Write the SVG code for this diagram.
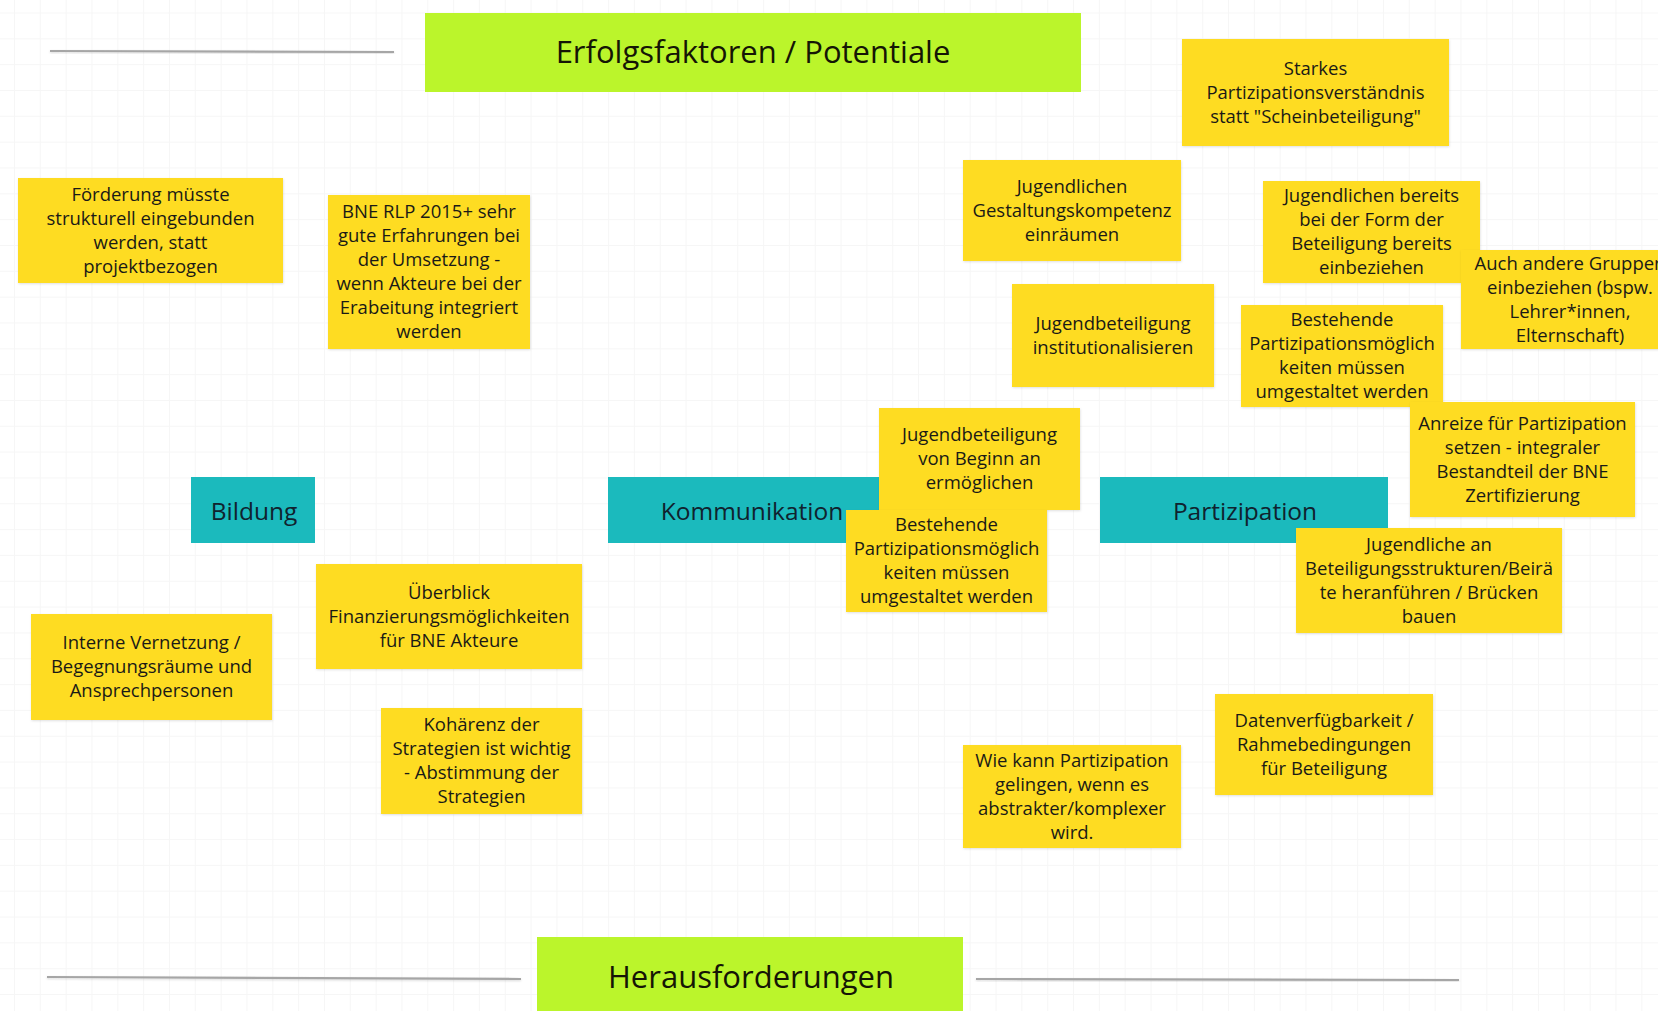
<svg xmlns="http://www.w3.org/2000/svg" width="1658" height="1011" viewBox="0 0 1658 1011">
  <style>
    .note { fill: #fedc22; filter: url(#sh); }
    .teal { fill: #1bbabd; }
    .green { fill: #bbf52b; }
    .nt { font-family: "Open Sans", "Noto Sans", "Liberation Sans", sans-serif; font-size: 18.5px; fill: #1a1a16; text-anchor: middle; }
    .tt { font-family: "Open Sans", "Noto Sans", "Liberation Sans", sans-serif; font-size: 24.5px; fill: #10222e; text-anchor: middle; }
    .gt { font-family: "Open Sans", "Noto Sans", "Liberation Sans", sans-serif; font-size: 31px; fill: #151505; text-anchor: middle; }
    .ln { stroke: #a6a6a6; stroke-width: 2.2; fill: none; filter: url(#lsh); }
  </style>
  <defs>
    <pattern id="grid" x="14" y="12.5" width="25.83" height="25.83" patternUnits="userSpaceOnUse">
      <path d="M0 0.5 H25.83 M0.5 0 V25.83" stroke="#f6f6f6" stroke-width="1" fill="none"/>
    </pattern>
    <filter id="sh" x="-5%" y="-5%" width="110%" height="115%">
      <feDropShadow dx="0.5" dy="1" stdDeviation="0.8" flood-color="#000" flood-opacity="0.12"/>
    </filter>
    <filter id="lsh" x="-1%" y="-200%" width="102%" height="500%">
      <feDropShadow dx="0" dy="1" stdDeviation="0.8" flood-color="#000" flood-opacity="0.15"/>
    </filter>
  </defs>

  <rect width="1658" height="1011" fill="#ffffff"/>
  <rect width="1658" height="1011" fill="url(#grid)"/>

  <g id="lines">
    <line class="ln" x1="50" y1="51" x2="394" y2="52"/>
    <line class="ln" x1="1100" y1="50" x2="1184" y2="50"/>
    <line class="ln" x1="47" y1="977" x2="521" y2="979"/>
    <line class="ln" x1="976" y1="979" x2="1459" y2="980"/>
  </g>

  <g id="erfolgsfaktoren">
    <rect class="green" x="425" y="13" width="656" height="79"/>
    <text class="gt" x="753" y="63">Erfolgsfaktoren / Potentiale</text>
  </g>

  <g id="herausforderungen">
    <rect class="green" x="537" y="937" width="426" height="80"/>
    <text class="gt" x="751" y="988">Herausforderungen</text>
  </g>

  <g id="bildung">
    <rect class="teal" x="191" y="477" width="124" height="66"/>
    <text class="tt" x="254" y="520">Bildung</text>
  </g>

  <g id="kommunikation">
    <rect class="teal" x="608" y="477" width="288" height="66"/>
    <text class="tt" x="752" y="520">Kommunikation</text>
  </g>

  <g id="partizipation">
    <rect class="teal" x="1100" y="477" width="288" height="66"/>
    <text class="tt" x="1245" y="520">Partizipation</text>
  </g>

  <g id="starkes">
    <rect class="note" x="1182" y="39" width="267" height="107"/>
    <text class="nt" x="1315.5" y="74.5"><tspan x="1315.5">Starkes</tspan><tspan x="1315.5" dy="24">Partizipationsverständnis</tspan><tspan x="1315.5" dy="24">statt "Scheinbeteiligung"</tspan></text>
  </g>

  <g id="foerderung">
    <rect class="note" x="18" y="178" width="265" height="105"/>
    <text class="nt" x="150.5" y="200.5"><tspan x="150.5">Förderung müsste</tspan><tspan x="150.5" dy="24">strukturell eingebunden</tspan><tspan x="150.5" dy="24">werden, statt</tspan><tspan x="150.5" dy="24">projektbezogen</tspan></text>
  </g>

  <g id="bne-rlp">
    <rect class="note" x="328" y="195" width="202" height="154"/>
    <text class="nt" x="429" y="218"><tspan x="429">BNE RLP 2015+ sehr</tspan><tspan x="429" dy="24">gute Erfahrungen bei</tspan><tspan x="429" dy="24">der Umsetzung -</tspan><tspan x="429" dy="24">wenn Akteure bei der</tspan><tspan x="429" dy="24">Erabeitung integriert</tspan><tspan x="429" dy="24">werden</tspan></text>
  </g>

  <g id="gestaltungskompetenz">
    <rect class="note" x="963" y="160" width="218" height="101"/>
    <text class="nt" x="1072" y="192.5"><tspan x="1072">Jugendlichen</tspan><tspan x="1072" dy="24">Gestaltungskompetenz</tspan><tspan x="1072" dy="24">einräumen</tspan></text>
  </g>

  <g id="form-beteiligung">
    <rect class="note" x="1263" y="181" width="217" height="102"/>
    <text class="nt" x="1371.5" y="202"><tspan x="1371.5">Jugendlichen bereits</tspan><tspan x="1371.5" dy="24">bei der Form der</tspan><tspan x="1371.5" dy="24">Beteiligung bereits</tspan><tspan x="1371.5" dy="24">einbeziehen</tspan></text>
  </g>

  <g id="andere-gruppen">
    <rect class="note" x="1461" y="250" width="218" height="99"/>
    <text class="nt" x="1570" y="269.5"><tspan x="1570">Auch andere Gruppen</tspan><tspan x="1570" dy="24">einbeziehen (bspw.</tspan><tspan x="1570" dy="24">Lehrer*innen,</tspan><tspan x="1570" dy="24">Elternschaft)</tspan></text>
  </g>

  <g id="institutionalisieren">
    <rect class="note" x="1012" y="284" width="202" height="103"/>
    <text class="nt" x="1113" y="329.5"><tspan x="1113">Jugendbeteiligung</tspan><tspan x="1113" dy="24">institutionalisieren</tspan></text>
  </g>

  <g id="bestehende-1">
    <rect class="note" x="1241" y="305" width="202" height="102"/>
    <text class="nt" x="1342" y="326"><tspan x="1342">Bestehende</tspan><tspan x="1342" dy="24">Partizipationsmöglich</tspan><tspan x="1342" dy="24">keiten müssen</tspan><tspan x="1342" dy="24">umgestaltet werden</tspan></text>
  </g>

  <g id="anreize">
    <rect class="note" x="1410" y="402" width="225" height="115"/>
    <text class="nt" x="1522.5" y="429.5"><tspan x="1522.5">Anreize für Partizipation</tspan><tspan x="1522.5" dy="24">setzen - integraler</tspan><tspan x="1522.5" dy="24">Bestandteil der BNE</tspan><tspan x="1522.5" dy="24">Zertifizierung</tspan></text>
  </g>

  <g id="von-beginn">
    <rect class="note" x="879" y="408" width="201" height="102"/>
    <text class="nt" x="979.5" y="441"><tspan x="979.5">Jugendbeteiligung</tspan><tspan x="979.5" dy="24">von Beginn an</tspan><tspan x="979.5" dy="24">ermöglichen</tspan></text>
  </g>

  <g id="bestehende-2">
    <rect class="note" x="846" y="510" width="201" height="102"/>
    <text class="nt" x="946.5" y="531"><tspan x="946.5">Bestehende</tspan><tspan x="946.5" dy="24">Partizipationsmöglich</tspan><tspan x="946.5" dy="24">keiten müssen</tspan><tspan x="946.5" dy="24">umgestaltet werden</tspan></text>
  </g>

  <g id="beiraete">
    <rect class="note" x="1296" y="528" width="266" height="105"/>
    <text class="nt" x="1429" y="550.5"><tspan x="1429">Jugendliche an</tspan><tspan x="1429" dy="24">Beteiligungsstrukturen/Beirä</tspan><tspan x="1429" dy="24">te heranführen / Brücken</tspan><tspan x="1429" dy="24">bauen</tspan></text>
  </g>

  <g id="ueberblick">
    <rect class="note" x="316" y="564" width="266" height="105"/>
    <text class="nt" x="449" y="598.5"><tspan x="449">Überblick</tspan><tspan x="449" dy="24">Finanzierungsmöglichkeiten</tspan><tspan x="449" dy="24">für BNE Akteure</tspan></text>
  </g>

  <g id="vernetzung">
    <rect class="note" x="31" y="614" width="241" height="106"/>
    <text class="nt" x="151.5" y="649"><tspan x="151.5">Interne Vernetzung /</tspan><tspan x="151.5" dy="24">Begegnungsräume und</tspan><tspan x="151.5" dy="24">Ansprechpersonen</tspan></text>
  </g>

  <g id="kohaerenz">
    <rect class="note" x="381" y="708" width="201" height="106"/>
    <text class="nt" x="481.5" y="731"><tspan x="481.5">Kohärenz der</tspan><tspan x="481.5" dy="24">Strategien ist wichtig</tspan><tspan x="481.5" dy="24">- Abstimmung der</tspan><tspan x="481.5" dy="24">Strategien</tspan></text>
  </g>

  <g id="wie-kann">
    <rect class="note" x="963" y="745" width="218" height="103"/>
    <text class="nt" x="1072" y="766.5"><tspan x="1072">Wie kann Partizipation</tspan><tspan x="1072" dy="24">gelingen, wenn es</tspan><tspan x="1072" dy="24">abstrakter/komplexer</tspan><tspan x="1072" dy="24">wird.</tspan></text>
  </g>

  <g id="daten">
    <rect class="note" x="1215" y="694" width="218" height="101"/>
    <text class="nt" x="1324" y="726.5"><tspan x="1324">Datenverfügbarkeit /</tspan><tspan x="1324" dy="24">Rahmebedingungen</tspan><tspan x="1324" dy="24">für Beteiligung</tspan></text>
  </g>
</svg>
